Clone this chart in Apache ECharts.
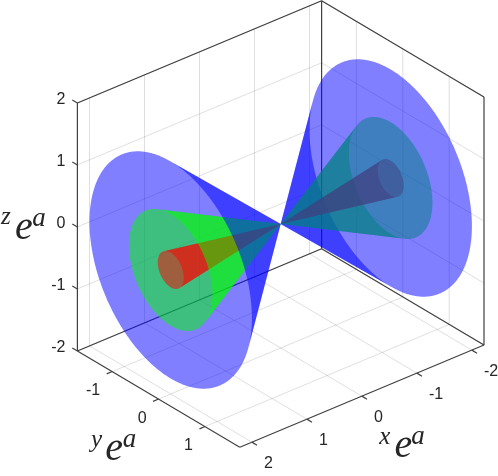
<!DOCTYPE html>
<html>
<head>
<meta charset="utf-8">
<title>cones</title>
<style>
  html, body { margin: 0; padding: 0; background: #fff; }
  #chart { width: 498px; height: 476px; }
</style>
<script src="https://cdn.jsdelivr.net/npm/echarts@6/dist/echarts.min.js"></script>
</head>
<body>
<div id="chart"></div>
<script>
// axis limits and ticks
const xLim = [-2.22, 2.22];
const yLim = [-1.75, 1.75];
const zLim = [-2, 2];
const xTicks = [-2, -1, 0, 1, 2];
const yTicks = [-1, 0, 1];
const zTicks = [-2, -1, 0, 1, 2];

// the cones, apex at the origin, open end at x = coneEnds
const coneEnds = [2, -2];
const coneRadii = [1.75, 0.9, 0.28];
const coneColors = ['rgba(0,0,255,0.5)', 'rgba(0,255,0,0.5)', 'rgba(255,0,0,0.5)'];

// one data unit on each axis, in hidden plane units (pixels)
const xDir = [-55, 23];
const yDir = [46.4, 27.5];
const zDir = [0, -62];

const GRID_COLOR = 'rgba(38,38,38,0.15)';
const AXIS_COLOR = '#404040';
const TEXT_COLOR = '#262626';

function project(p) {
  return [
    p[0] * xDir[0] + p[1] * yDir[0] + p[2] * zDir[0],
    p[0] * xDir[1] + p[1] * yDir[1] + p[2] * zDir[1]
  ];
}

// grid lines on the three back walls
const gridLines = [];
xTicks.forEach(function (x) {
  gridLines.push([[x, yLim[0], zLim[0]], [x, yLim[0], zLim[1]]]);
  gridLines.push([[x, yLim[0], zLim[0]], [x, yLim[1], zLim[0]]]);
});
yTicks.forEach(function (y) {
  gridLines.push([[xLim[0], y, zLim[0]], [xLim[0], y, zLim[1]]]);
  gridLines.push([[xLim[0], y, zLim[0]], [xLim[1], y, zLim[0]]]);
});
zTicks.forEach(function (z) {
  gridLines.push([[xLim[1], yLim[0], z], [xLim[0], yLim[0], z]]);
  gridLines.push([[xLim[0], yLim[0], z], [xLim[0], yLim[1], z]]);
});

// box outline and ticks
const boxLines = [
  [[xLim[1], yLim[0], zLim[1]], [xLim[0], yLim[0], zLim[1]]],
  [[xLim[0], yLim[0], zLim[1]], [xLim[0], yLim[1], zLim[1]]],
  [[xLim[0], yLim[1], zLim[1]], [xLim[0], yLim[1], zLim[0]]],
  [[xLim[0], yLim[0], zLim[1]], [xLim[0], yLim[0], zLim[0]]],
  [[xLim[0], yLim[0], zLim[0]], [xLim[1], yLim[0], zLim[0]]],
  [[xLim[0], yLim[0], zLim[0]], [xLim[0], yLim[1], zLim[0]]]
];
const frontLines = [
  [[xLim[1], yLim[0], zLim[0]], [xLim[1], yLim[0], zLim[1]]],
  [[xLim[1], yLim[0], zLim[0]], [xLim[1], yLim[1], zLim[0]]],
  [[xLim[1], yLim[1], zLim[0]], [xLim[0], yLim[1], zLim[0]]]
];
zTicks.forEach(function (z) {
  frontLines.push([[xLim[1], yLim[0], z], [xLim[1], yLim[0] - 0.11, z]]);
});
yTicks.forEach(function (y) {
  frontLines.push([[xLim[1], y, zLim[0]], [xLim[1] + 0.1, y, zLim[0]]]);
});
xTicks.forEach(function (x) {
  frontLines.push([[x, yLim[1], zLim[0]], [x, yLim[1] + 0.11, zLim[0]]]);
});

// split an open cone into the two sheets seen from the viewer:
// the one bordering the whole outline and the one on the apex side of the mouth
function coneSheets(endX, r) {
  const n = 720;
  const apex = project([0, 0, 0]);
  const pts = [];
  for (let i = 0; i < n; i++) {
    const t = (i / n) * Math.PI * 2;
    pts.push(project([endX, r * Math.cos(t), r * Math.sin(t)]));
  }
  const sign = [];
  for (let i = 0; i < n; i++) {
    const a = pts[i], b = pts[(i + 1) % n];
    sign.push((a[0] - apex[0]) * (b[1] - apex[1]) - (a[1] - apex[1]) * (b[0] - apex[0]) > 0);
  }
  let start = 0;
  for (let i = 0; i < n; i++) {
    if (sign[i] !== sign[(i + n - 1) % n]) { start = i; break; }
  }
  const arcs = [[apex], [apex]];
  let cur = 0;
  for (let k = 0; k <= n; k++) {
    const i = (start + k) % n;
    if (k > 0 && k < n && sign[i] !== sign[(i + n - 1) % n]) {
      arcs[cur].push(pts[i]);
      cur = 1;
    }
    arcs[cur].push(pts[i]);
  }
  function dist(arc) {
    return Math.hypot(arc[Math.floor(arc.length / 2)][0] - apex[0], arc[Math.floor(arc.length / 2)][1] - apex[1]);
  }
  return dist(arcs[0]) > dist(arcs[1])
    ? { outer: arcs[0], inner: arcs[1] }
    : { outer: arcs[1], inner: arcs[0] };
}

// painter order, back to front
const sheetPolys = [];
const left = coneRadii.map(function (r) { return coneSheets(coneEnds[0], r); });
const right = coneRadii.map(function (r) { return coneSheets(coneEnds[1], r); });
[0, 1, 2].forEach(function (c) { sheetPolys.push({ pts: right[c].inner, color: coneColors[c] }); });
[2, 1, 0].forEach(function (c) { sheetPolys.push({ pts: right[c].outer, color: coneColors[c] }); });
[0, 1, 2].forEach(function (c) { sheetPolys.push({ pts: left[c].outer, color: coneColors[c] }); });
[2, 1, 0].forEach(function (c) { sheetPolys.push({ pts: left[c].inner, color: coneColors[c] }); });

// tick labels
const tickFont = '16px "Liberation Sans", Arial, sans-serif';
const labels = [];
zTicks.forEach(function (z) {
  labels.push({ at: [xLim[1], yLim[0], z], dx: -12, dy: -3.5, text: String(z), align: 'right', font: tickFont });
});
yTicks.forEach(function (y) {
  labels.push({ at: [xLim[1], y, zLim[0]], dx: -12, dy: 19.5, text: String(y), align: 'right', font: tickFont });
});
xTicks.forEach(function (x) {
  labels.push({ at: [x, yLim[1], zLim[0]], dx: 12, dy: 21, text: String(x), align: 'left', font: tickFont });
});

// axis titles, pieces placed around the axis middles
const mathFont = function (s) { return 'italic ' + s + 'px "Liberation Serif", serif'; };
const zMid = [xLim[1], yLim[0], 0];
const yMid = [xLim[1], 0, zLim[0]];
const xMid = [0, yLim[1], zLim[0]];
[
  [zMid, 'z', -71.5, -10, 25], [zMid, 'e', -53.5, 2, 40], [zMid, 'a', -38.5, -8, 27],
  [yMid, 'y', -62, 41, 25], [yMid, 'e', -44.5, 50, 40], [yMid, 'a', -29, 41, 27],
  [xMid, 'x', 23, 41, 25], [xMid, 'e', 41.5, 50, 40], [xMid, 'a', 56, 41, 27]
].forEach(function (t) {
  labels.push({ at: t[0], dx: t[2], dy: t[3], text: t[1], align: 'center', font: mathFont(t[4]) });
});

function lineSeries(lines, color, width, z) {
  return {
    type: 'custom',
    coordinateSystem: 'cartesian2d',
    silent: true,
    clip: false,
    z: z,
    data: lines.map(function (l, i) { return [i, i]; }),
    renderItem: function (params, api) {
      const l = lines[params.dataIndex];
      const a = api.coord(project(l[0]));
      const b = api.coord(project(l[1]));
      return {
        type: 'line',
        shape: { x1: a[0], y1: a[1], x2: b[0], y2: b[1] },
        style: { stroke: color, lineWidth: width, fill: null }
      };
    }
  };
}

const chart = echarts.init(document.getElementById('chart'));
chart.setOption({
  animation: false,
  backgroundColor: '#fff',
  grid: { left: 0, right: 0, top: 0, bottom: 0 },
  xAxis: { type: 'value', show: false, min: -280.7, max: 217.3 },
  yAxis: { type: 'value', show: false, min: -224, max: 252, inverse: true },
  series: [
    lineSeries(gridLines, GRID_COLOR, 1, 1),
    lineSeries(boxLines, AXIS_COLOR, 1.2, 2),
    {
      type: 'custom',
      coordinateSystem: 'cartesian2d',
      silent: true,
      clip: false,
      z: 3,
      data: sheetPolys.map(function (s, i) { return [i, i]; }),
      renderItem: function (params, api) {
        const s = sheetPolys[params.dataIndex];
        return {
          type: 'polygon',
          z2: params.dataIndex,
          shape: { points: s.pts.map(function (p) { return api.coord(p); }) },
          style: { fill: s.color, stroke: null }
        };
      }
    },
    lineSeries(frontLines, AXIS_COLOR, 1.2, 4),
    {
      type: 'custom',
      coordinateSystem: 'cartesian2d',
      silent: true,
      clip: false,
      z: 5,
      data: labels.map(function (l, i) { return [i, i]; }),
      renderItem: function (params, api) {
        const l = labels[params.dataIndex];
        const c = api.coord(project(l.at));
        return {
          type: 'text',
          style: {
            text: l.text,
            x: c[0] + l.dx,
            y: c[1] + l.dy,
            font: l.font,
            fill: TEXT_COLOR,
            align: l.align,
            verticalAlign: 'middle'
          }
        };
      }
    }
  ]
});
</script>
</body>
</html>
